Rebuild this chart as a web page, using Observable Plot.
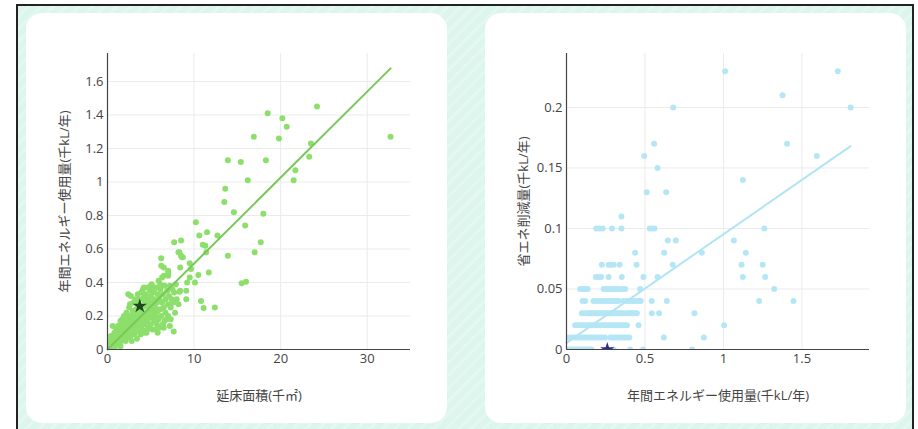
<!DOCTYPE html>
<html><head><meta charset="utf-8">
<script src="https://cdn.jsdelivr.net/npm/d3@7"></script>
<script src="https://cdn.jsdelivr.net/npm/@observablehq/plot@0.6"></script>
<style>
html,body{margin:0;padding:0;background:#fff;}
body{width:918px;height:429px;position:relative;overflow:hidden;font-family:"Open Sans","Noto Sans CJK JP",sans-serif;}
#frame{position:absolute;left:16px;top:4px;width:898px;height:445px;box-sizing:border-box;border:2px solid #222;
background:repeating-linear-gradient(135deg,#dcf5ed 0 6px,#e4f7f1 6px 9px);}
.panel{position:absolute;top:13px;width:421px;height:410px;background:#fff;border-radius:16px;overflow:hidden}
.panel svg{display:block}
</style></head><body>
<div id="frame"></div>
<div class="panel" id="left" style="left:26px"></div>
<div class="panel" id="right" style="left:485px"></div>
<script>
// ---- Left chart: floor area (千㎡) vs annual energy use (千kL/年)
const leftXTicks = [0, 10, 20, 30];
const leftYTicks = [0, 0.2, 0.4, 0.6, 0.8, 1, 1.2, 1.4, 1.6];
const leftXLabel = "延床面積(千㎡)";
const leftYLabel = "年間エネルギー使用量(千kL/年)";
const leftOutliers = [
  [32.7,1.27],[24.2,1.45],[18.5,1.41],[20.2,1.38],[20.7,1.33],[16.9,1.27],[19.8,1.26],[23.5,1.23],
  [13.9,1.13],[15.4,1.12],[18.3,1.13],[23.3,1.15],[21.7,1.07],[21.5,1.01],[16.2,1.01],[13.6,0.96],
  [13.5,0.88],[14.6,0.82],[18.0,0.81],[10.2,0.76],[15.9,0.74],[10.6,0.68],[11.5,0.70],[12.7,0.68],
  [7.7,0.64],[8.5,0.65],[11.0,0.625],[11.3,0.62],[17.7,0.64],[8.3,0.58],[11.4,0.58],[17.0,0.58],
  [6.2,0.545],[8.5,0.56],[8.7,0.55],[13.9,0.56],[9.5,0.515],[6.2,0.50],[6.5,0.49],[7.0,0.47],
  [8.4,0.49],[9.65,0.48],[7.0,0.44],[10.5,0.445],[11.7,0.46],[9.5,0.43],[10.1,0.40],[9.2,0.40],
  [15.5,0.395],[16.0,0.405],[9.1,0.35],[8.3,0.345],[10.8,0.29],[9.1,0.30],[11.1,0.247],[12.4,0.25],
  [7.65,0.107],[7.2,0.14],[3.4,0.064],[0.6,0.14]
];
const leftCluster = [
  [0.1,0.01],[0.2,0.02],[0.3,0.01],[0.3,0.04],[0.4,0.03],[0.5,0.06],[0.5,0.02],[0.6,0.05],[0.7,0.08],[0.7,0.03],
  [0.8,0.04],[0.8,0.1],[0.9,0.06],[0.9,0.02],[1.0,0.08],[1.0,0.05],[0.2,0.05],[0.4,0.08],[1.0,0.12],
  [1.1,0.03],[1.1,0.1],[1.2,0.06],[1.2,0.14],[1.3,0.09],[1.3,0.04],[1.4,0.12],[1.4,0.07],[1.5,0.02],[1.5,0.1],
  [1.6,0.15],[1.6,0.05],[1.7,0.09],[1.7,0.18],[1.8,0.12],[1.8,0.06],[1.9,0.2],[1.9,0.1],[2.0,0.14],[2.0,0.07],
  [1.5,0.17],[1.8,0.16],
  [2.1,0.18],[2.1,0.05],[2.2,0.1],[2.2,0.22],[2.3,0.13],[2.3,0.08],[2.4,0.33],[2.4,0.16],[2.5,0.25],[2.5,0.11],
  [2.6,0.2],[2.6,0.07],[2.7,0.32],[2.7,0.14],[2.8,0.18],[2.8,0.05],[2.9,0.23],[2.9,0.1],[3.0,0.28],[3.0,0.15],
  [2.2,0.19],[2.6,0.27],[3.0,0.12],
  [3.1,0.2],[3.1,0.09],[3.2,0.3],[3.2,0.13],[3.3,0.17],[3.3,0.24],[3.4,0.21],[3.5,0.33],[3.5,0.15],
  [3.6,0.27],[3.6,0.11],[3.7,0.19],[3.7,0.3],[3.8,0.23],[3.8,0.14],[3.9,0.17],[3.9,0.34],[4.0,0.25],[4.0,0.12],
  [3.4,0.28],[3.8,0.09],[4.0,0.2],
  [4.1,0.36],[4.1,0.18],[4.2,0.22],[4.2,0.1],[4.3,0.29],[4.3,0.15],[4.4,0.33],[4.4,0.2],[4.5,0.26],[4.5,0.1],
  [4.6,0.37],[4.6,0.17],[4.7,0.23],[4.7,0.3],[4.8,0.13],[4.8,0.27],[4.9,0.2],[4.9,0.35],[5.0,0.24],[5.0,0.15],
  [4.2,0.31],[4.6,0.12],[5.0,0.32],[4.2,0.37],[5.0,0.38],
  [5.1,0.39],[5.1,0.19],[5.2,0.28],[5.2,0.12],[5.3,0.22],[5.3,0.34],[5.4,0.17],[5.4,0.3],[5.5,0.25],[5.5,0.12],
  [5.6,0.37],[5.6,0.2],[5.7,0.28],[5.7,0.15],[5.8,0.33],[5.8,0.23],[5.9,0.41],[5.9,0.18],[6.0,0.3],[6.0,0.13],
  [5.4,0.36],[5.8,0.1],[6.1,0.39],
  [6.1,0.24],[6.1,0.36],[6.2,0.2],[6.3,0.43],[6.3,0.28],[6.4,0.15],[6.4,0.33],[6.5,0.13],[6.5,0.25],[6.6,0.38],
  [6.7,0.22],[6.7,0.3],[6.8,0.18],[6.9,0.35],[7.0,0.45],[7.0,0.27],[6.6,0.17],[7.0,0.2],[6.5,0.44],
  [7.1,0.32],[7.2,0.38],[7.3,0.25],[7.4,0.3],[7.5,0.36],[7.6,0.28],[7.7,0.34],[7.8,0.22],[8.0,0.3],[8.2,0.27],
  [7.3,0.18],[7.9,0.39],[8.4,0.35],[8.2,0.58],[8.6,0.55]
];
const leftStar = [[3.73, 0.259]];
const leftFit = [[0, 0], [32.7, 1.678]];

// ---- Right chart: annual energy use (千kL/年) vs energy saving (千kL/年)
const rightXTicks = [0, 0.5, 1, 1.5];
const rightYTicks = [0, 0.05, 0.1, 0.15, 0.2];
const rightXLabel = "年間エネルギー使用量(千kL/年)";
const rightYLabel = "省エネ削減量(千kL/年)";
const rightRowY = [0, 0.01, 0.02, 0.03, 0.04, 0.05, 0.06, 0.07, 0.08, 0.09, 0.1, 0.11, 0.13, 0.14, 0.15, 0.16, 0.17, 0.2, 0.21, 0.23];
const rightRowX = [
  [0.01,0.025,0.04,0.055,0.07,0.085,0.1,0.115,0.13,0.145,0.16,0.3,0.405,0.488,0.80],
  [0.0,0.015,0.03,0.045,0.06,0.075,0.09,0.105,0.12,0.135,0.15,0.165,0.18,0.195,0.21,0.225,0.245,0.28,0.295,0.31,0.325,0.34,0.355,0.37,0.385,0.40,0.62,0.875],
  [0.055,0.07,0.085,0.10,0.115,0.13,0.145,0.16,0.175,0.19,0.205,0.22,0.235,0.25,0.265,0.28,0.295,0.31,0.325,0.34,0.355,0.37,0.385,0.459,1.004],
  [0.098,0.11,0.13,0.14,0.151,0.16,0.172,0.18,0.193,0.2,0.215,0.225,0.236,0.245,0.257,0.265,0.278,0.29,0.3,0.31,0.321,0.33,0.342,0.355,0.374,0.39,0.406,0.415,0.427,0.437,0.448,0.543,0.59,0.815],
  [0.102,0.119,0.172,0.193,0.215,0.236,0.25,0.268,0.285,0.3,0.314,0.331,0.363,0.384,0.401,0.42,0.437,0.459,0.473,0.543,0.639,1.227,1.446],
  [0.087,0.1,0.115,0.135,0.236,0.25,0.265,0.28,0.293,0.31,0.33,0.352,0.374,0.469,1.323],
  [0.187,0.204,0.221,0.268,0.352,0.49,0.58,1.123,1.265],
  [0.225,0.268,0.283,0.3,0.338,0.446,0.677,1.115,1.25],
  [0.437,0.622,0.862,1.142],
  [0.645,0.696,1.066],
  [0.19,0.21,0.23,0.29,0.35,0.53,0.545,0.56,1.26],
  [0.35],
  [0.511,0.635],
  [1.123],
  [0.58],
  [0.495,1.594],
  [0.558,1.405],
  [0.68,1.81],
  [1.376],
  [1.01,1.728]
];
const rightStar = [[0.26, 0]];
const rightFit = [[0, 0.0055], [1.81, 0.168]];

const fmt = d => String(+(+d).toFixed(3));
const font = "'Open Sans','Noto Sans CJK JP',sans-serif";

function chart({points, star, fit, xDomain, yDomain, xTicks, yTicks, xLabel, yLabel, dotColor, lineColor, starColor}) {
  return Plot.plot({
    width: 421, height: 410,
    marginLeft: 81, marginRight: 37, marginTop: 40, marginBottom: 74,
    style: {fontFamily: font, fontSize: "11px", color: "#444", background: "transparent", overflow: "visible"},
    x: {domain: xDomain},
    y: {domain: yDomain},
    marks: [
      Plot.gridX(xTicks.filter(d => d !== 0), {stroke: "#ebebeb", strokeOpacity: 1}),
      Plot.gridY(yTicks.filter(d => d !== 0), {stroke: "#ebebeb", strokeOpacity: 1}),
      Plot.axisX(xTicks, {tickSize: 0, tickPadding: 4, tickFormat: fmt, fill: "#444", fontSize: 11,
        label: xLabel, labelAnchor: "center", labelOffset: 50, labelArrow: false}),
      Plot.axisY(yTicks, {tickSize: 0, tickPadding: 4, tickFormat: fmt, fill: "#444", fontSize: 11,
        label: yLabel, labelAnchor: "center", labelOffset: 48, labelArrow: false}),
      Plot.dot(points, {x: d => d[0], y: d => d[1], r: 3, fill: dotColor, stroke: "none", clip: true}),
      Plot.line(fit, {x: d => d[0], y: d => d[1], stroke: lineColor, strokeWidth: 2}),
      Plot.dot(star, {x: d => d[0], y: d => d[1], symbol: "star", r: 4.5, fill: starColor, stroke: "none", clip: true}),
      Plot.ruleX([xDomain[0]], {stroke: "#444", strokeWidth: 1.2}),
      Plot.ruleY([yDomain[0]], {stroke: "#444", strokeWidth: 1.2})
    ]
  });
}

const leftSvg = chart({
  points: leftOutliers.concat(leftCluster), star: leftStar, fit: leftFit,
  xDomain: [0, 35], yDomain: [0, 1.767], xTicks: leftXTicks, yTicks: leftYTicks,
  xLabel: leftXLabel, yLabel: leftYLabel, dotColor: "#8ddf6c", lineColor: "#79c95a", starColor: "#1d4a1d"
});
const rightPoints = rightRowY.flatMap((y, i) => rightRowX[i].map(x => [x, y]));
const rightSvg = chart({
  points: rightPoints, star: rightStar, fit: rightFit,
  xDomain: [0, 1.93], yDomain: [0, 0.2446], xTicks: rightXTicks, yTicks: rightYTicks,
  xLabel: rightXLabel, yLabel: rightYLabel, dotColor: "#b5e6f6", lineColor: "#b3e4f4", starColor: "#2b2f8c"
});
for (const svg of [leftSvg, rightSvg]) {
  svg.querySelectorAll("g[aria-label$='label'] text, g[aria-label*='label'] text").forEach(t => t.setAttribute("font-size", "13"));
}
document.getElementById("left").appendChild(leftSvg);
document.getElementById("right").appendChild(rightSvg);
</script>
</body></html>
